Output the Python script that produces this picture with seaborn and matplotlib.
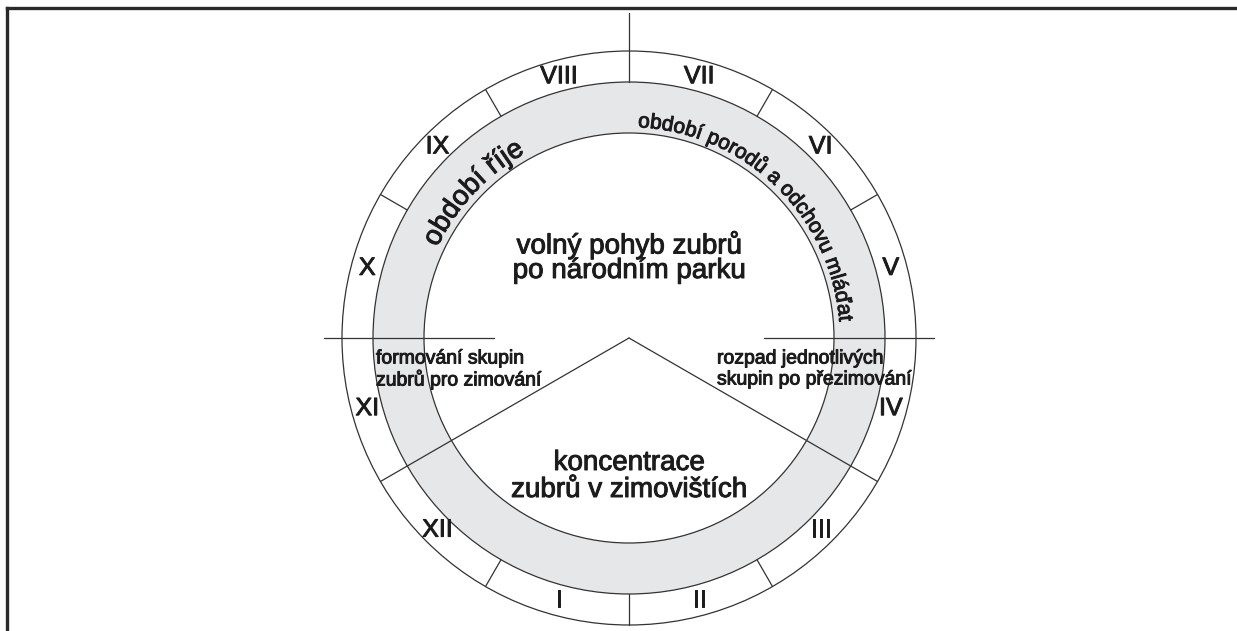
import numpy as np
import pandas as pd
import matplotlib
matplotlib.use("Agg")
import matplotlib.pyplot as plt
import matplotlib.patheffects as pe
import seaborn as sns
from matplotlib.patches import Circle, Wedge
from matplotlib.font_manager import FontProperties, findfont, get_font

try:
    from matplotlib.ft2font import LoadFlags
    NO_HINT = LoadFlags.NO_HINTING
except ImportError:
    from matplotlib.ft2font import LOAD_NO_HINTING as NO_HINT

# months round the dial, I at the bottom, going anticlockwise
months = ["I", "II", "III", "IV", "V", "VI", "VII", "VIII", "IX", "X", "XI", "XII"]

# phases written inside the ring
phase_free = ["volný pohyb zubrů", "po národním parku"]
phase_winter = ["koncentrace", "zubrů v zimovištích"]
phase_grouping = ["formování skupin", "zubrů pro zimování"]
phase_breakup = ["rozpad jednotlivých", "skupin po přezimování"]

# periods written round the grey band
band_rut = "období říje"
band_calving = "období porodů a odchovu mláďat"

sns.set_theme(style="white")
plt.rcParams["font.family"] = ["Liberation Sans", "DejaVu Sans"]

W, H = 1237, 631
cx, cy = 629, 338
r_in, r_band, r_out = 205, 256, 287
line_c = "#333333"
ink = "#1c1c1c"
# the original lettering is a bit heavier than Liberation regular
heavy = [pe.withStroke(linewidth=0.7, foreground=ink)]

fig = plt.figure(figsize=(W / 100, H / 100), dpi=100)
ax = fig.add_axes([0, 0, 1, 1])


def pol(r, deg):
    a = np.deg2rad(deg)
    return cx + r * np.cos(a), cy - r * np.sin(a)


# grey band and the three circles
ax.add_patch(Wedge((cx, cy), r_band, 0, 360, width=r_band - r_in,
                   facecolor="#e6e7e8", edgecolor="none"))
for r in (r_in, r_band, r_out):
    ax.add_patch(Circle((cx, cy), r, fill=False, ec=line_c, lw=0.9))

# month dividers, some of them run further in / out
start_deg = 240
bounds = [(start_deg + 30 * i) % 360 for i in range(12)]
reach = {90: (r_band, 325), 0: (135, 305), 180: (135, 305),
         330: (0, r_out), 210: (0, r_out)}
rows = []
for i, b in enumerate(bounds):
    r0, r1 = reach.get(b, (r_band, r_out))
    for r in (r0, r1):
        x, y = pol(r, b)
        rows.append({"seg": i, "x": x, "y": y})
seg = pd.DataFrame(rows)
sns.lineplot(data=seg, x="x", y="y", units="seg", estimator=None, sort=False,
             color=line_c, lw=0.9, ax=ax, legend=False)

# month numerals
for i, m in enumerate(months):
    x, y = pol(271, start_deg + 15 + 30 * i)
    ax.text(x, y, m, ha="center", va="center", fontsize=18, color=ink,
            path_effects=heavy)

# texts inside
for txt, y in zip(phase_free, (242, 268)):
    ax.text(cx, y, txt, ha="center", va="center_baseline", fontsize=20, color=ink,
            path_effects=heavy)
for txt, y in zip(phase_winter, (460, 487)):
    ax.text(cx, y, txt, ha="center", va="center_baseline", fontsize=20, color=ink,
            path_effects=heavy)
for txt, y in zip(phase_grouping, (357, 378)):
    ax.text(376, y, txt, ha="left", va="center_baseline", fontsize=14, color=ink,
            path_effects=heavy)
for txt, y in zip(phase_breakup, (357, 378)):
    ax.text(717, y, txt, ha="left", va="center_baseline", fontsize=14, color=ink,
            path_effects=heavy)


def arc_text(text, r_base, mid_deg, size):
    fp = FontProperties(family="Liberation Sans", size=size)
    font = get_font(findfont(fp))
    font.set_size(size, fig.dpi)
    adv = np.array([font.load_char(ord(ch), flags=NO_HINT).linearHoriAdvance / 65536
                    for ch in text])
    pos = np.cumsum(adv) - adv / 2 - adv.sum() / 2
    for ch, s in zip(text, pos):
        deg = mid_deg - np.rad2deg(s / r_base)
        x, y = pol(r_base, deg)
        ax.text(x, y, ch, rotation=deg - 90, rotation_mode="anchor",
                ha="center", va="baseline", fontproperties=fp, color=ink,
                path_effects=heavy)


arc_text(band_rut, 212, 137, 20)
arc_text(band_calving, 211, 46, 15)

# frame, only top and left edges show
ax.plot([7, 7], [H, 8], color="#2a2a2a", lw=2.4, solid_capstyle="projecting")
ax.plot([7, W], [8, 8], color="#2a2a2a", lw=2.4, solid_capstyle="projecting")

ax.set_xlim(0, W)
ax.set_ylim(H, 0)
ax.axis("off")

fig.savefig("out.png", dpi=100, facecolor="white")
